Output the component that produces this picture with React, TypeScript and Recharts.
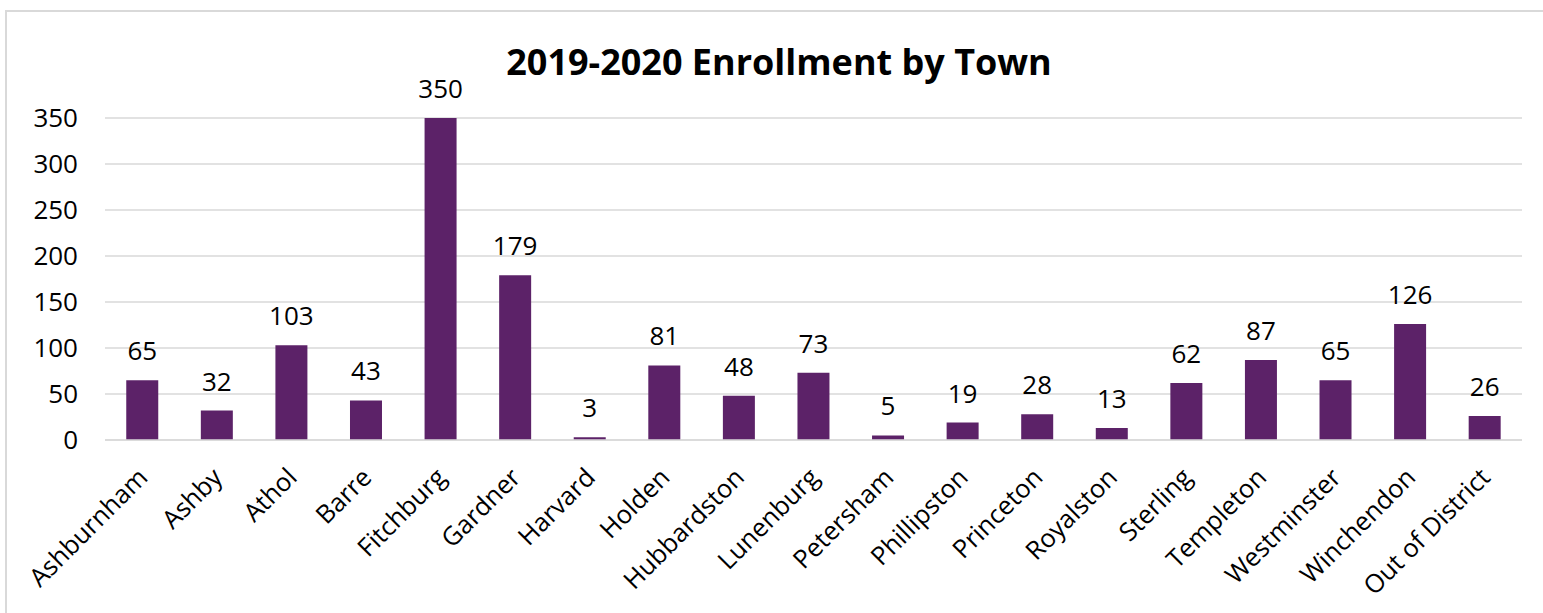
import React from "react";
import { BarChart, Bar, XAxis, YAxis, CartesianGrid, LabelList } from "recharts";

const towns = [
  "Ashburnham", "Ashby", "Athol", "Barre", "Fitchburg", "Gardner", "Harvard",
  "Holden", "Hubbardston", "Lunenburg", "Petersham", "Phillipston", "Princeton",
  "Royalston", "Sterling", "Templeton", "Westminster", "Winchendon", "Out of District",
];
const enrollment = [65, 32, 103, 43, 350, 179, 3, 81, 48, 73, 5, 19, 28, 13, 62, 87, 65, 126, 26];
const yTicks = [0, 50, 100, 150, 200, 250, 300, 350];

const data = towns.map((town, i) => ({ town, students: enrollment[i] }));

const FONT = "'Open Sans', sans-serif";
const PURPLE = "#5c2268";

const TownTick = ({ x, y, payload }: any) => {
  const ax = x + 7;
  const ay = y + 31;
  return (
    <text
      x={ax}
      y={ay}
      transform={`rotate(-45 ${ax} ${ay})`}
      textAnchor="end"
      fontSize={25.5}
      fontFamily={FONT}
      fill="#000"
    >
      {payload.value}
    </text>
  );
};

export default function App() {
  return (
    <div style={{ position: "relative", width: 1543, height: 613, overflow: "hidden", background: "#fff" }}>
      <style>{"body{margin:0}"}</style>
      <div
        style={{
          position: "absolute",
          left: 5,
          top: 10,
          width: 1560,
          height: 640,
          border: "2px solid #d9d9d9",
          boxSizing: "border-box",
        }}
      />
      <div
        style={{
          position: "absolute",
          left: 0,
          top: 42,
          width: 1558,
          textAlign: "center",
          fontFamily: FONT,
          fontWeight: 700,
          fontSize: 36,
          lineHeight: "40px",
          color: "#000",
        }}
      >
        2019-2020 Enrollment by Town
      </div>
      <div style={{ position: "absolute", left: 0, top: 0 }}>
        <BarChart
          width={1543}
          height={613}
          data={data}
          margin={{ top: 118, right: 21, bottom: 0, left: 0 }}
          barCategoryGap="28.5%"
        >
          <CartesianGrid vertical={false} stroke="#d9d9d9" strokeWidth={1.5} />
          <XAxis
            dataKey="town"
            interval={0}
            height={173}
            tick={<TownTick />}
            tickLine={false}
            axisLine={{ stroke: "#d9d9d9", strokeWidth: 1.5 }}
          />
          <YAxis
            width={105}
            domain={[0, 350]}
            ticks={yTicks}
            interval={0}
            axisLine={false}
            tickLine={false}
            tickMargin={21}
            tick={{ fontSize: 26, fontFamily: FONT, fill: "#000" }}
          />
          <Bar dataKey="students" fill={PURPLE} isAnimationActive={false}>
            <LabelList
              dataKey="students"
              position="top"
              offset={20}
              style={{ fontSize: 26, fontFamily: FONT, fill: "#000" }}
            />
          </Bar>
        </BarChart>
      </div>
    </div>
  );
}
